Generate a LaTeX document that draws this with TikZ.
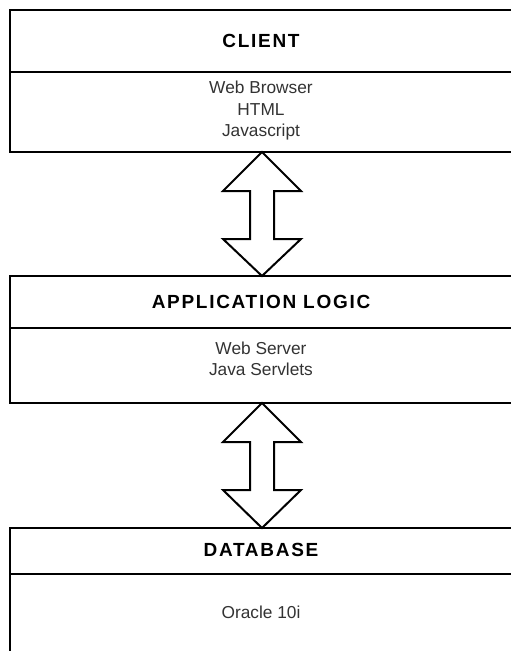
\documentclass[tikz,border=0pt]{standalone}
\usepackage{fontspec}
\setmainfont{Liberation Sans}
\begin{document}
\begin{tikzpicture}[x=1pt,y=-1pt,
  boxline/.style={draw=black,line width=2pt},
  head/.style={font=\fontsize{19}{22}\selectfont\bfseries\addfontfeature{LetterSpace=9},text=black,inner sep=0pt,anchor=center},
  body/.style={font=\fontsize{17.3}{21.5}\selectfont,text=black!80,align=center,inner sep=0pt,anchor=center},
  dblarrow/.style={draw=black,line width=2pt,fill=white,line join=miter}]
\useasboundingbox (0,0) rectangle (511,651);
\fill[white] (0,0) rectangle (511,651);
% boxes
\draw[boxline] (530,10) -- (10,10) -- (10,152) -- (530,152);
\draw[boxline] (10,72) -- (530,72);
\draw[boxline] (530,276) -- (10,276) -- (10,403) -- (530,403);
\draw[boxline] (10,328) -- (530,328);
\draw[boxline] (530,528) -- (10,528) -- (10,680);
\draw[boxline] (10,574) -- (530,574);
% texts
\node[head] (client) at (261,41) {CLIENT};
\node[body] (clientbody) at (261,111) {Web Browser\\HTML\\Javascript};
\node[head] (app) at (261,302) {APPLICATION LOGIC};
\node[body] (appbody) at (261,359) {Web Server\\Java Servlets};
\node[head] (db) at (261,550) {DATABASE};
\node[body] (dbbody) at (261,612) {Oracle 10i};
% arrows
\coordinate (a1t) at (262,152);
\coordinate (a1b) at (262,276);
\coordinate (a2t) at (262,403);
\coordinate (a2b) at (262,528);
\draw[dblarrow] (a1t) -- ++(39,39) -- ++(-27,0) -- ++(0,48) -- ++(27,0) -- (a1b)
  -- ++(-39,-37) -- ++(27,0) -- ++(0,-48) -- ++(-27,0) -- cycle;
\draw[dblarrow] (a2t) -- ++(39,39) -- ++(-27,0) -- ++(0,48) -- ++(27,0) -- (a2b)
  -- ++(-39,-38) -- ++(27,0) -- ++(0,-48) -- ++(-27,0) -- cycle;
\end{tikzpicture}
\end{document}
